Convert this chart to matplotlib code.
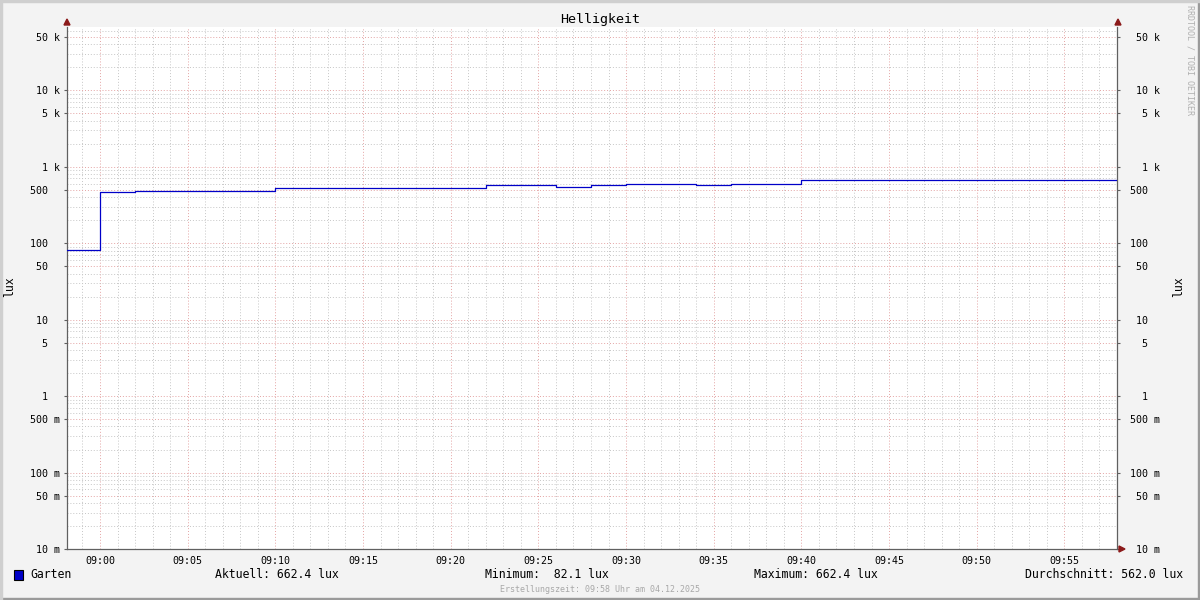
import matplotlib.pyplot as plt
import matplotlib.dates as mdates
import matplotlib.ticker as mticker
import matplotlib.transforms as mtransforms
from matplotlib.patches import Rectangle
import pandas as pd

# Helligkeit (lux), step data
times = ['08:58', '09:00', '09:02', '09:10', '09:22', '09:26', '09:28',
         '09:30', '09:34', '09:36', '09:40', '09:58']
lux = [82.1, 467, 481, 520, 577, 543, 577, 594, 577, 594, 662.4, 662.4]

ytick_vals = [0.01, 0.05, 0.1, 0.5, 1, 5, 10, 50, 100, 500, 1000, 5000, 10000, 50000]
ytick_labels = ['10 m', '50 m', '100 m', '500 m', '1  ', '5  ', '10  ', '50  ',
                '100  ', '500  ', '1 k', '5 k', '10 k', '50 k']

legend_name = 'Garten'
stats = ['Aktuell: 662.4 lux', 'Minimum:  82.1 lux', 'Maximum: 662.4 lux',
         'Durchschnitt: 562.0 lux']

t = pd.to_datetime(['2025-12-04 ' + s for s in times])

mono = 'DejaVu Sans Mono'
bg = '#f3f3f3'
fig = plt.figure(figsize=(12, 6), dpi=100, facecolor=bg)
ax = fig.add_axes([67 / 1200, 1 - 549 / 600, 1050 / 1200, 522 / 600])
ax.set_facecolor('white')

ax.step(t, lux, where='post', color='#0000c8', lw=0.9, zorder=3)

ax.set_yscale('log')
ax.set_ylim(0.01, 67000)
x0 = pd.Timestamp('2025-12-04 08:58:07')
x1 = pd.Timestamp('2025-12-04 09:58:00')
ax.set_xlim(x0, x1)

# grids
ax.yaxis.set_major_locator(mticker.FixedLocator(ytick_vals))
ax.yaxis.set_major_formatter(mticker.FixedFormatter(ytick_labels))
ax.yaxis.set_minor_locator(mticker.LogLocator(base=10, subs=[2, 3, 4, 6, 7, 8, 9], numticks=20))
ax.yaxis.set_minor_formatter(mticker.NullFormatter())
ax.xaxis.set_major_locator(mdates.MinuteLocator(byminute=range(0, 60, 5)))
ax.xaxis.set_major_formatter(mdates.DateFormatter('%H:%M'))
ax.xaxis.set_minor_locator(mdates.MinuteLocator())

ax.grid(which='minor', color='#c6c6c6', linestyle=(0, (1, 2)), lw=0.7, zorder=1)
ax.grid(which='major', color='#e4a4a4', linestyle=(0, (1, 2)), lw=0.7, zorder=2)
ax.set_axisbelow(True)

ax.tick_params(axis='y', which='major', length=2.5, width=0.8, color='#606060',
               labelsize=7.2, pad=2.5, right=True, labelfontfamily=mono)
ax.tick_params(axis='y', which='minor', length=0)
ax.tick_params(axis='x', which='major', length=0, labelsize=7.2, pad=5,
               labelfontfamily=mono)
ax.tick_params(axis='x', which='minor', length=0)
ax.yaxis.set_tick_params(which='major', labelright=True)
shift = mtransforms.ScaledTranslation(43 / 100, 0, fig.dpi_scale_trans)
for tk in ax.yaxis.get_major_ticks():
    tk.label2.set_horizontalalignment('right')
    tk.label2.set_x(1.0)
    tk.label2.set_transform(ax.get_yaxis_transform() + shift)

ax.spines['top'].set_visible(False)
for s in ['left', 'right', 'bottom']:
    ax.spines[s].set_color('#606060')
    ax.spines[s].set_linewidth(0.9)

# arrows at axis ends
red = '#8b1a1a'
fig.patches.append(plt.Polygon([[64 / 1200, 1 - 25 / 600], [70 / 1200, 1 - 25 / 600], [67 / 1200, 1 - 19 / 600]],
                               closed=True, color=red, transform=fig.transFigure))
fig.patches.append(plt.Polygon([[1115 / 1200, 1 - 25 / 600], [1121 / 1200, 1 - 25 / 600], [1118 / 1200, 1 - 19 / 600]],
                               closed=True, color=red, transform=fig.transFigure))
fig.patches.append(plt.Polygon([[1119 / 1200, 1 - 546 / 600], [1119 / 1200, 1 - 552 / 600], [1125 / 1200, 1 - 549 / 600]],
                               closed=True, color=red, transform=fig.transFigure))

# titles and labels
fig.text(600 / 1200, 1 - 19 / 600, 'Helligkeit', ha='center', va='center',
         fontsize=9.6, family=mono)
fig.text(10 / 1200, 1 - 287 / 600, 'lux', ha='center', va='center', rotation=90,
         fontsize=8.3, family=mono)
fig.text(1179 / 1200, 1 - 287 / 600, 'lux', ha='center', va='center', rotation=90,
         fontsize=8.3, family=mono)
fig.text(1190 / 1200, 1 - 5 / 600, 'RRDTOOL / TOBI OETIKER', ha='center', va='top',
         rotation=270, fontsize=6, family=mono, color='#b0b0b0')

# legend row
fig.patches.append(Rectangle((14 / 1200, 1 - 580 / 600), 9 / 1200, 10 / 600, facecolor='#0000c8',
                             edgecolor='black', lw=0.8, transform=fig.transFigure))
fig.text(30 / 1200, 1 - 575 / 600, legend_name, ha='left', va='center', fontsize=8.3, family=mono)
stat_x = [215, 485, 754]
for xx, s in zip(stat_x, stats[:3]):
    fig.text(xx / 1200, 1 - 575 / 600, s, ha='left', va='center', fontsize=8.3, family=mono)
fig.text(1183 / 1200, 1 - 575 / 600, stats[3], ha='right', va='center', fontsize=8.3, family=mono)
fig.text(600 / 1200, 1 - 589 / 600, 'Erstellungszeit: 09:58 Uhr am 04.12.2025', ha='center',
         va='center', fontsize=6, family=mono, color='#a8a8a8')

# frame around the image
fig.patches.append(Rectangle((0, 0), 1, 2 / 600, color='#9a9a9a', transform=fig.transFigure))
fig.patches.append(Rectangle((1 - 2 / 1200, 0), 2 / 1200, 1, color='#9a9a9a', transform=fig.transFigure))
fig.patches.append(Rectangle((0, 1 - 2 / 600), 1, 2 / 600, color='#cfcfcf', transform=fig.transFigure))
fig.patches.append(Rectangle((0, 0), 2 / 1200, 1, color='#cfcfcf', transform=fig.transFigure))

fig.savefig('out.png', dpi=100, facecolor=bg)
